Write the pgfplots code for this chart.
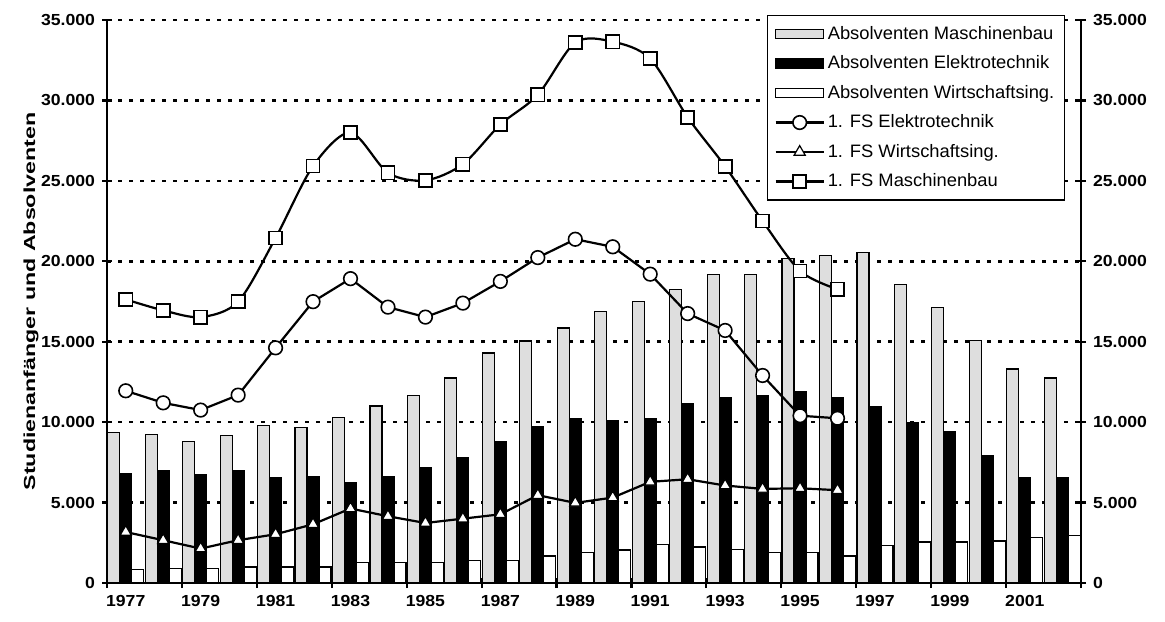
\documentclass[border=0pt]{standalone}
\usepackage{fontspec}
\setmainfont{Liberation Sans}[FakeStretch=1.1]
\newfontfamily\ylabfont{Liberation Sans}[FakeStretch=1.45]
\newfontfamily\legfont{Liberation Sans}[FakeStretch=1.02]
\usepackage{pgfplots}
\pgfplotsset{compat=1.18}
\pgfplotsset{
  common/.style={
    at={(0,0)}, anchor=south west,
    scale only axis, width=487pt, height=281.5pt,
    xmin=-0.5, xmax=25.5, ymin=0, ymax=35000,
    ytick={0,5000,...,35000},
    scaled y ticks=false,
    /pgf/number format/1000 sep={.},
    /pgf/number format/assume math mode=true,
    tick label style={font=\bfseries\fontsize{8}{9}\selectfont},
    tick align=center, major tick length=5pt,
    every tick/.style={black, line width=1.1pt},
    axis line style={-, line width=1.2pt},
    x axis line style={-}, y axis line style={-},
  },
  barleg/.style={legend image code/.code={\draw[##1, line width=0.6pt] (0pt,-2.3pt) rectangle (24pt,2.3pt);}},
  lineleg/.style={legend image code/.code={\draw[mark repeat=2,mark phase=2,##1] plot coordinates {(0pt,0pt) (12pt,0pt) (24pt,0pt)};}},
}
\begin{document}
\begin{tikzpicture}
\useasboundingbox (-53.5pt,-19pt) rectangle (529pt,291.5pt);
\begin{axis}[common,
  axis x line*=bottom, axis y line*=left,
  xtick={-0.5,1.5,...,23.5},
  xticklabels={1977,1979,1981,1983,1985,1987,1989,1991,1993,1995,1997,1999,2001},
  xticklabel style={xshift=9.365pt},
  extra x ticks={25.5}, extra x tick labels={},
  ymajorgrids, major grid style={black, line width=1.3pt, dash pattern=on 2pt off 3.5pt},
  ylabel={Studienanfänger und Absolventen},
  ylabel style={at={(axis description cs:-0.078,0.5)}, anchor=center, font=\ylabfont\bfseries\fontsize{8}{9}\selectfont},
  legend style={at={(0.6776,1.0089)}, anchor=north west, draw=black, line width=0.6pt, fill=white,
    font=\legfont\fontsize{9}{10}\selectfont, nodes={inner sep=1.5pt},
    row sep=3.7pt, inner xsep=3.5pt, inner ysep=3.8pt},
  legend cell align=left,
]
\addplot[ybar, bar width=6pt, bar shift=-6pt, draw=black, line width=0.6pt, fill=black!13, barleg] coordinates {
(0,9350) (1,9230) (2,8820) (3,9170) (4,9770) (5,9650) (6,10270) (7,11000) (8,11660) (9,12750)
(10,14300) (11,15040) (12,15850) (13,16880) (14,17520) (15,18260) (16,19200) (17,19200) (18,20150) (19,20380)
(20,20550) (21,18550) (22,17130) (23,15100) (24,13300) (25,12750)};
\addlegendentry{Absolventen Maschinenbau}
\addplot[ybar, bar width=6pt, bar shift=0pt, draw=black, line width=0.6pt, fill=black, barleg] coordinates {
(0,6810) (1,7010) (2,6760) (3,7010) (4,6560) (5,6600) (6,6270) (7,6600) (8,7160) (9,7800)
(10,8780) (11,9750) (12,10190) (13,10120) (14,10230) (15,11160) (16,11510) (17,11680) (18,11890) (19,11540)
(20,10950) (21,9960) (22,9400) (23,7950) (24,6540) (25,6540)};
\addlegendentry{Absolventen Elektrotechnik}
\addplot[ybar, bar width=6pt, bar shift=6pt, draw=black, line width=0.6pt, fill=white, barleg] coordinates {
(0,830) (1,900) (2,900) (3,1000) (4,1000) (5,1000) (6,1250) (7,1250) (8,1250) (9,1390)
(10,1390) (11,1680) (12,1890) (13,2050) (14,2390) (15,2240) (16,2100) (17,1910) (18,1890) (19,1680)
(20,2350) (21,2550) (22,2550) (23,2610) (24,2820) (25,2970)};
\addlegendentry{Absolventen Wirtschaftsing.}
\addplot[black, line width=1.1pt, mark=*, mark size=3.4pt, mark options={fill=white, line width=0.8pt}, lineleg] coordinates {
(0,11950) (1,11200) (2,10750) (3,11680) (4,14620) (5,17490) (6,18920) (7,17150) (8,16530) (9,17400)
(10,18750) (11,20230) (12,21370) (13,20900) (14,19200) (15,16750) (16,15700) (17,12900) (18,10400) (19,10240)};
\addlegendentry{1. FS Elektrotechnik}
\addplot[black, line width=1.1pt, mark=triangle*, mark size=3.2pt, mark options={fill=white, line width=0.6pt}, lineleg] coordinates {
(0,3170) (1,2660) (2,2140) (3,2660) (4,3030) (5,3650) (6,4630) (7,4150) (8,3730) (9,4000)
(10,4270) (11,5460) (12,4980) (13,5310) (14,6290) (15,6450) (16,6060) (17,5850) (18,5890) (19,5770)};
\addlegendentry{1. FS Wirtschaftsing.}
\addplot[black, line width=1.1pt, smooth, tension=0.5, mark=square*, mark size=3.3pt, mark options={fill=white, line width=0.8pt}, lineleg] coordinates {
(0,17630) (1,16950) (2,16530) (3,17490) (4,21450) (5,25920) (6,28000) (7,25500) (8,25030) (9,26040)
(10,28500) (11,30350) (12,33600) (13,33650) (14,32600) (15,28950) (16,25900) (17,22500) (18,19400) (19,18260)};
\addlegendentry{1. FS Maschinenbau}
\end{axis}
\begin{axis}[common,
  axis x line=none, axis y line*=right,
]
\addplot[draw=none] coordinates {(0,0)};
\end{axis}
\end{tikzpicture}
\end{document}
